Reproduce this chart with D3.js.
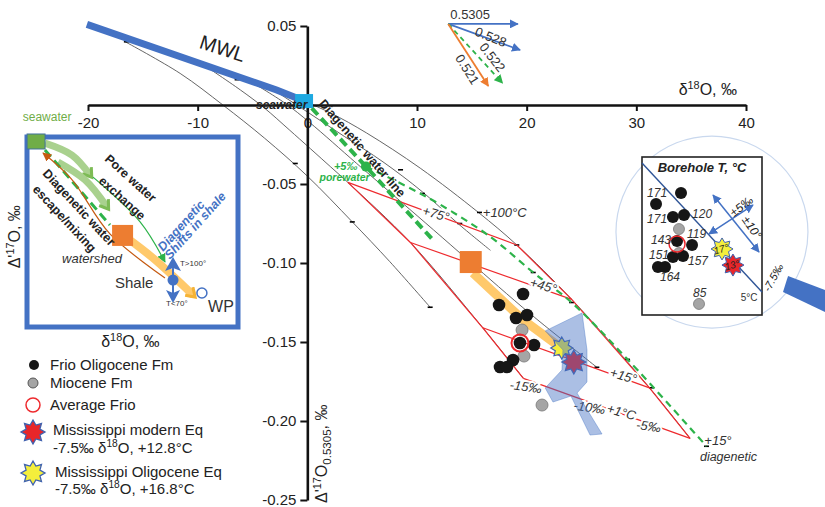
<!DOCTYPE html>
<html>
<head>
<meta charset="utf-8">
<script src="https://cdn.jsdelivr.net/npm/d3@7"></script>
<style>
  body { margin: 0; background: #fff; }
  svg { font-family: Arial, "Liberation Sans", sans-serif; }
</style>
</head>
<body>
<svg id="chart" width="825" height="507"></svg>
<script>
// ---- axes
const xTicks = [-20, -10, 0, 10, 20, 30, 40];
const yTicks = [0.05, -0.05, -0.10, -0.15, -0.20, -0.25];

// ---- meteoric water line and seawater (d18O, D'17O)
const mwlLine = [[-20.1, 0.051], [-2.8, 0.0095], [-0.8, 0.004]];
const seawaterPt = [-0.3, 0.0025];

// ---- thin equilibrium curves
const curveA = [[-16.6, 0.040], [-11.6, 0.020], [-7.7, 0], [-3.9, -0.021], [0, -0.045], [4.1, -0.074], [7.5, -0.099], [11.2, -0.128]];
const curveB = [[-9.8, 0.027], [-6.1, 0.0095], [-3.9, -0.002], [-1.6, -0.016], [2.1, -0.039], [3.7, -0.049], [9.4, -0.087], [16.0, -0.141], [19.7, -0.173]];
const curveC = [[-5.2, 0.015], [-2.0, 0.001], [0.2, -0.011], [4.5, -0.037], [8.5, -0.061], [11.5, -0.079], [14.8, -0.099], [20.3, -0.132], [26.4, -0.166]];
const curveD = [[-3.4, 0.011], [0, -0.0044], [3.4, -0.020], [6.9, -0.036], [10.5, -0.055], [13.9, -0.076], [16.7, -0.092]];
const curveE = [[-2.0, 0.0076], [2.1, -0.005], [5.4, -0.0177], [10.3, -0.040], [15.6, -0.068], [19.1, -0.0886], [24.1, -0.123], [31.2, -0.179], [34.9, -0.211]];
const curveTicks = [[-16.5, 0.040], [-6.4, 0.016], [-4.6, 0.014], [-1.1, -0.037], [4.1, -0.074], [11.2, -0.128],
  [8.5, -0.041], [10.5, -0.056], [13.9, -0.075], [15.7, -0.068], [19.1, -0.0886], [20.6, -0.106],
  [24.1, -0.125], [26.4, -0.166], [29.2, -0.161], [31.4, -0.179], [36.4, -0.216]];

// ---- red grid: water d18O columns and isotherm rows
const minus15Line = [[3.7, -0.049], [9.4, -0.087], [16.0, -0.141], [19.7, -0.173]];
const minus5Line = [[19.1, -0.0886], [24.1, -0.123], [31.2, -0.179], [34.9, -0.211]];
const isoLabels = ['+75°', '+45°', '+15°', '+1°C'];
const isoLabelPts = [[11.7, -0.0696], [21.5, -0.115], [28.8, -0.172], [28.6, -0.195]];
const waterLabels = ['-15‰', '-10‰', '-5‰'];
const waterLabelPts = [[19.9, -0.179], [25.7, -0.192], [31.1, -0.204]];

// ---- diagenetic water lines
const diagThick = [[0.4, -0.002], [5.35, -0.039], [11.4, -0.085]];
const diagThin = [[5.35, -0.039], [8.9, -0.051], [12.1, -0.063], [16.7, -0.0835], [20.6, -0.106], [24.1, -0.125], [29.2, -0.161], [36.4, -0.216]];
const porewaterPt = [5.35, -0.039];

// ---- samples
const orangeSq = [14.9, -0.0994];
const shaleBand = [[15.1, -0.1063], [19.67, -0.136], [22.8, -0.152]];
const frioBlack = [[19.67, -0.1196], [17.48, -0.1266], [19.03, -0.1348], [20.03, -0.1329], [19.39, -0.1506],
  [20.67, -0.1519], [18.76, -0.1614], [17.57, -0.1658], [18.21, -0.1658]];
const mioceneGray = [[19.58, -0.1424], [19.76, -0.1589], [21.40, -0.1899]];
const avgFrio = [19.39, -0.1506];
const starOligocene = [23.2, -0.1538];
const starModern = [24.3, -0.1627];
const bluePoly = [[21.69, -0.143], [25.05, -0.1316], [25.5, -0.155], [25.5, -0.1753], [24.59, -0.1823], [26.87, -0.2082],
  [25.78, -0.2089], [24.04, -0.1842], [22.4, -0.188], [21.69, -0.1791], [23.22, -0.1677], [23.31, -0.155]];

// ---- slope arrows (top)
const slopeOrigin = [12.85, 0.0513];
const slopeNames = ['0.5305', '0.528', '0.522', '0.521'];
const slopeEnds = [[19.2, 0.0513], [19.4, 0.0348], [17.8, 0.0139], [16.5, 0.0120]];
const slopeLabelPts = [[14.85, 0.0565], [16.7, 0.0424], [16.8, 0.0297], [14.5, 0.0222]];
const slopeLabelRot = [0, 22, 52, 58];

// ---- left schematic inset (0-100 units)
const inSeawater = [4.3, 2.1];
const inPore1 = [[8.5, 3.2], [21.3, 9.5], [29.9, 20]];
const inPore2 = [[14.7, 13.2], [27.5, 22.6], [37.9, 36.8]];
const inDashed = [[8.5, 6.8], [39.3, 46.3]];
const inGreenThin = [[31.3, 21.1], [53.6, 44.7], [65.4, 65.8]];
const inBrown = [[65.4, 74.2], [39.3, 51], [21, 22], [7.6, 8.4]];
const inOrange = [45.3, 51.8];
const inBand = [[45.5, 51.6], [59.7, 63.7], [78.7, 83.2]];
const inShale = [69.2, 75.3];
const inWP = [82.9, 82.1];

// ---- right borehole inset (0-100 units)
const bhBlack = [[32.5, 22.8], [11.7, 29.7], [25.8, 38], [35, 36.7], [29.2, 53.2], [41.7, 55.7], [25.8, 63.3],
  [34.2, 62.7], [13.3, 69.6], [19.2, 69.6]];
const bhGray = [[30.8, 45.6], [30.8, 60.8], [47.5, 93]];
const bhAvg = [29.2, 55.1];
const bhTemps = ['171', '171', '120', '119', '143', '151', '157', '164', '85'];
const bhTempPts = [[4.2, 25.3], [4.2, 41.8], [41.7, 38.6], [37.5, 51.3], [7.5, 55.1], [5.8, 64.6], [38.3, 68.4], [15, 78.5], [42.5, 88.6]];
const bhLine = [[0, 3.8], [100, 85.4]];
const bhArrow1 = [[59.2, 24.1], [97.5, 60.1]];
const bhArrow2 = [[92.5, 30.4], [55.8, 48.7]];
const bhStar17 = [66.7, 58.2];
const bhStar13 = [75.8, 68.4];
const bhCircle = [58.3, 47.5];
const bhWedge = [[121.7, 75.3], [152.5, 84.2], [152.5, 98.1], [117.5, 85.4]];

// ---- legend
const legendNames = ['Frio Oligocene Fm', 'Miocene Fm', 'Average Frio'];

const BLUE = '#4472C4', GREEN = '#2DB34A', ORANGE = '#ED7D31', RED = '#EE2A2E';

const svg = d3.select('#chart');
const x = d3.scaleLinear().domain([-20, 40]).range([88, 746]);
const y = d3.scaleLinear().domain([0.05, -0.25]).range([26, 500]);
const line = d3.line().x(d => x(d[0])).y(d => y(d[1]));
const smooth = d3.line().x(d => x(d[0])).y(d => y(d[1])).curve(d3.curveCatmullRom.alpha(0.5));

// markers
const defs = svg.append('defs');
function marker(id, color, kind) {
  const m = defs.append('marker').attr('id', id).attr('viewBox', '0 0 10 10')
    .attr('refX', kind === 'chev' ? 5 : 9).attr('refY', 5)
    .attr('markerUnits', 'userSpaceOnUse')
    .attr('markerWidth', kind === 'chev' ? 14 : 9).attr('markerHeight', kind === 'chev' ? 14 : 9)
    .attr('orient', 'auto-start-reverse');
  if (kind === 'chev') {
    m.append('path').attr('d', 'M1,1 L7,5 L1,9').attr('fill', 'none').attr('stroke', color).attr('stroke-width', 2.2);
  } else {
    m.append('path').attr('d', 'M0,0 L10,5 L0,10 z').attr('fill', color);
  }
}
marker('aBlue', BLUE); marker('aGreen', GREEN); marker('aOrange', ORANGE); marker('aBrown', '#C55A11');
marker('cGreen', '#7DBB55', 'chev'); marker('cOrange', '#F5B335', 'chev');

function addText(g, px, py, str, o = {}) {
  const t = g.append('text').attr('x', px).attr('y', py)
    .attr('font-size', o.size || 13).attr('fill', o.fill || '#222');
  if (str !== null) t.text(str);
  if (o.anchor) t.attr('text-anchor', o.anchor);
  if (o.weight) t.attr('font-weight', o.weight);
  if (o.italic) t.attr('font-style', 'italic');
  if (o.rotate) t.attr('transform', `rotate(${o.rotate},${px},${py})`);
  if (o.halo) t.attr('stroke', '#fff').attr('stroke-width', 4).attr('paint-order', 'stroke');
  return t;
}
function deltaTspans(t, pre, sup, post) {
  t.append('tspan').text(pre);
  t.append('tspan').attr('font-size', '68%').attr('dy', -6).text(sup);
  t.append('tspan').attr('dy', 6).text(post);
}
function starPath(cx, cy, R, r, n) {
  const pts = d3.range(n * 2).map(i => {
    const a = Math.PI * i / n - Math.PI / 2;
    const rr = i % 2 ? r : R;
    return [cx + rr * Math.cos(a), cy + rr * Math.sin(a)];
  });
  return 'M' + pts.join('L') + 'Z';
}

// ---- borehole circle backdrop
const rX = d3.scaleLinear().domain([0, 100]).range([642, 762]);
const rY = d3.scaleLinear().domain([0, 100]).range([157, 315]);
svg.append('circle').attr('cx', rX(bhCircle[0])).attr('cy', rY(bhCircle[1])).attr('r', 96)
  .attr('fill', 'none').attr('stroke', '#C9D8EE').attr('stroke-width', 1.2);
svg.append('path').attr('d', d3.line().x(d => rX(d[0])).y(d => rY(d[1]))(bhWedge) + 'Z').attr('fill', BLUE);

// ---- thin curves
const plot = svg.append('g');
[curveA, curveB, curveC, curveD, curveE].forEach(c => {
  plot.append('path').attr('d', smooth(c)).attr('fill', 'none').attr('stroke', '#555').attr('stroke-width', 0.9);
});
plot.selectAll('.ctick').data(curveTicks).join('line')
  .attr('x1', d => x(d[0]) - 2.5).attr('x2', d => x(d[0]) + 2.5)
  .attr('y1', d => y(d[1])).attr('y2', d => y(d[1]))
  .attr('stroke', '#000').attr('stroke-width', 1.6);

// ---- red grid
const red = svg.append('g').attr('fill', 'none').attr('stroke', RED).attr('stroke-width', 1.2);
red.append('path').attr('d', line(minus15Line));
red.append('path').attr('d', line(minus5Line));
minus15Line.forEach((p, i) => red.append('path').attr('d', line([p, minus5Line[i]])));

// ---- diagenetic water lines
svg.append('path').attr('d', line(diagThick)).attr('fill', 'none').attr('stroke', GREEN)
  .attr('stroke-width', 4).attr('stroke-dasharray', '9,5');
svg.append('path').attr('d', smooth(diagThin)).attr('fill', 'none').attr('stroke', GREEN)
  .attr('stroke-width', 2.2).attr('stroke-dasharray', '7,5');
svg.append('circle').attr('cx', x(porewaterPt[0])).attr('cy', y(porewaterPt[1])).attr('r', 5).attr('fill', GREEN);

// ---- axes
const xAxis = svg.append('g').attr('transform', `translate(0,${y(0)})`)
  .call(d3.axisBottom(x).tickValues(xTicks).tickSize(6).tickSizeOuter(0).tickPadding(6).tickFormat(d => String(d)));
const yAxis = svg.append('g').attr('transform', `translate(${x(0)},0)`)
  .call(d3.axisLeft(y).tickValues(yTicks).tickSize(7).tickSizeOuter(0).tickPadding(4).tickFormat(d => d.toFixed(2)));
[xAxis, yAxis].forEach(a => {
  a.select('.domain').attr('stroke', '#111').attr('stroke-width', 2.6);
  a.selectAll('.tick line').attr('stroke', '#111').attr('stroke-width', 2);
  a.selectAll('.tick text').attr('font-size', 15).attr('fill', '#222').attr('font-family', 'Arial, "Liberation Sans", sans-serif');
});

const xt = addText(svg, x(40) - 9, y(0) - 10, null, { size: 16, anchor: 'end' });
deltaTspans(xt, 'δ', '18', 'O, ‰');
const yt = svg.append('text').attr('transform', `translate(${x(0) + 20},${y(-0.25) + 3}) rotate(-90)`)
  .attr('font-size', 16).attr('fill', '#222');
yt.append('tspan').text("Δ'");
yt.append('tspan').attr('font-size', '68%').attr('dy', -6).text('17');
yt.append('tspan').attr('dy', 6).text('O');
yt.append('tspan').attr('font-size', '72%').attr('dy', 4).text('0.5305');
yt.append('tspan').attr('dy', -4).text(', ‰');

// ---- MWL and seawater
svg.append('path').attr('d', line(mwlLine)).attr('fill', 'none').attr('stroke', BLUE).attr('stroke-width', 7);
svg.append('rect').attr('x', x(seawaterPt[0]) - 9).attr('y', y(seawaterPt[1]) - 7).attr('width', 18).attr('height', 14)
  .attr('fill', '#1EA9E1');
addText(svg, x(-7.77), y(0.0348), 'MWL', { size: 20, anchor: 'middle', rotate: 18, fill: '#222' })
  .attr('dominant-baseline', 'middle');
addText(svg, x(0), y(-0.0025), 'seawater', { size: 12, weight: 'bold', italic: true, anchor: 'end', fill: '#222' });
addText(svg, x(1.0), y(0.0006), 'Diagenetic water line', { size: 12.5, weight: 'bold', rotate: 49, fill: '#222' });
addText(svg, x(3.5), y(-0.0411), '+5‰', { size: 11, weight: 'bold', italic: true, anchor: 'middle', fill: GREEN });
addText(svg, x(3.4), y(-0.0481), 'porewater', { size: 10.5, weight: 'bold', italic: true, anchor: 'middle', fill: GREEN });

// ---- grid labels
isoLabels.forEach((s, i) => addText(svg, x(isoLabelPts[i][0]), y(isoLabelPts[i][1]), s,
  { size: 13, italic: true, anchor: 'middle', rotate: 16, fill: '#333', halo: true }).attr('dominant-baseline', 'middle'));
waterLabels.forEach((s, i) => addText(svg, x(waterLabelPts[i][0]), y(waterLabelPts[i][1]), s,
  { size: 13, italic: true, anchor: 'middle', rotate: 8, fill: '#333', halo: true }).attr('dominant-baseline', 'middle'));
addText(svg, x(16.0), y(-0.0709), '+100°C', { size: 13, italic: true, fill: '#333' });
addText(svg, x(36.2), y(-0.2152), '+15°', { size: 13, italic: true, fill: '#333' });
addText(svg, x(35.8), y(-0.2253), 'diagenetic', { size: 12.5, italic: true, fill: '#333' });

// ---- samples
svg.append('path').attr('d', line(shaleBand)).attr('fill', 'none').attr('stroke', '#FFC96B').attr('stroke-width', 9);
svg.append('rect').attr('x', x(orangeSq[0]) - 11).attr('y', y(orangeSq[1]) - 11).attr('width', 22).attr('height', 22)
  .attr('fill', ORANGE);
svg.selectAll('.gray').data(mioceneGray).join('circle').attr('cx', d => x(d[0])).attr('cy', d => y(d[1]))
  .attr('r', 6).attr('fill', '#A5A5A5').attr('stroke', '#777').attr('stroke-width', 0.8);
svg.selectAll('.black').data(frioBlack).join('circle').attr('cx', d => x(d[0])).attr('cy', d => y(d[1]))
  .attr('r', 6.3).attr('fill', '#161616');
svg.append('circle').attr('cx', x(avgFrio[0])).attr('cy', y(avgFrio[1])).attr('r', 8.5)
  .attr('fill', 'none').attr('stroke', RED).attr('stroke-width', 2);
svg.append('path').attr('d', starPath(x(starOligocene[0]), y(starOligocene[1]), 11, 7, 8))
  .attr('fill', '#F4EE3C').attr('stroke', '#3F62B0').attr('stroke-width', 1.2);
svg.append('path').attr('d', starPath(x(starModern[0]), y(starModern[1]), 12, 7.5, 8))
  .attr('fill', '#E8262A').attr('stroke', '#3F62B0').attr('stroke-width', 1.2);
svg.append('path').attr('d', line(bluePoly) + 'Z').attr('fill', BLUE).attr('fill-opacity', 0.45)
  .attr('stroke', BLUE).attr('stroke-opacity', 0.5).attr('stroke-width', 0.8);

// ---- slope arrows
const slopeColors = [BLUE, BLUE, GREEN, ORANGE];
const slopeMarkers = ['aBlue', 'aBlue', 'aGreen', 'aOrange'];
slopeEnds.forEach((e, i) => {
  svg.append('path').attr('d', line([slopeOrigin, e])).attr('stroke', slopeColors[i]).attr('stroke-width', 1.8)
    .attr('stroke-dasharray', i === 2 ? '5,4' : null).attr('marker-end', `url(#${slopeMarkers[i]})`);
  addText(svg, x(slopeLabelPts[i][0]), y(slopeLabelPts[i][1]), slopeNames[i],
    { size: 13, anchor: 'middle', rotate: slopeLabelRot[i], fill: '#333' }).attr('dominant-baseline', 'middle');
});

// ---- left schematic inset
const ix = d3.scaleLinear().domain([0, 100]).range([27, 238]);
const iy = d3.scaleLinear().domain([0, 100]).range([137, 327]);
const iline = d3.line().x(d => ix(d[0])).y(d => iy(d[1])).curve(d3.curveCatmullRom.alpha(0.5));
const inset = svg.append('g');
inset.append('rect').attr('x', ix(0)).attr('y', iy(0)).attr('width', ix(100) - ix(0)).attr('height', iy(100) - iy(0))
  .attr('fill', '#fff').attr('stroke', BLUE).attr('stroke-width', 5);
[inPore1, inPore2].forEach(p => inset.append('path').attr('d', iline(p)).attr('fill', 'none')
  .attr('stroke', '#A9D18E').attr('stroke-width', 7).attr('marker-end', 'url(#cGreen)'));
inset.append('path').attr('d', iline(inDashed)).attr('fill', 'none').attr('stroke', GREEN)
  .attr('stroke-width', 3).attr('stroke-dasharray', '9,5');
inset.append('path').attr('d', iline(inGreenThin)).attr('fill', 'none').attr('stroke', GREEN)
  .attr('stroke-width', 1.2).attr('marker-end', 'url(#aGreen)');
inset.append('path').attr('d', iline(inBand)).attr('fill', 'none').attr('stroke', '#FFC96B')
  .attr('stroke-width', 8).attr('marker-end', 'url(#cOrange)');
inset.append('path').attr('d', iline(inBrown)).attr('fill', 'none').attr('stroke', '#C55A11')
  .attr('stroke-width', 1.2).attr('marker-end', 'url(#aBrown)');
inset.append('rect').attr('x', ix(inSeawater[0]) - 9).attr('y', iy(inSeawater[1]) - 7).attr('width', 18).attr('height', 15)
  .attr('fill', '#70AD47').attr('stroke', '#41719C').attr('stroke-width', 1);
inset.append('rect').attr('x', ix(inOrange[0]) - 10.5).attr('y', iy(inOrange[1]) - 10.5).attr('width', 21).attr('height', 21)
  .attr('fill', ORANGE);
const sx = ix(inShale[0]), sy = iy(inShale[1]);
inset.append('path').attr('d', `M${sx},${sy - 23}L${sx + 8},${sy - 9}L${sx},${sy - 12}L${sx - 8},${sy - 9}Z`).attr('fill', BLUE);
inset.append('path').attr('d', `M${sx},${sy + 23}L${sx + 7},${sy + 10}L${sx},${sy + 13}L${sx - 7},${sy + 10}Z`).attr('fill', BLUE);
inset.append('line').attr('x1', sx).attr('x2', sx).attr('y1', sy - 12).attr('y2', sy + 13).attr('stroke', BLUE).attr('stroke-width', 2);
inset.append('circle').attr('cx', sx).attr('cy', sy).attr('r', 5.5).attr('fill', BLUE);
inset.append('circle').attr('cx', ix(inWP[0])).attr('cy', iy(inWP[1])).attr('r', 5).attr('fill', '#fff')
  .attr('stroke', BLUE).attr('stroke-width', 1.5);
addText(inset, ix(36.5), iy(12.1), 'Pore water', { size: 12.5, weight: 'bold', rotate: 42 });
addText(inset, ix(33.6), iy(23.7), 'exchange', { size: 12.5, weight: 'bold', rotate: 42 });
addText(inset, ix(7.1), iy(19.5), 'Diagenetic water', { size: 12.5, weight: 'bold', rotate: 47 });
addText(inset, ix(2.4), iy(27.9), 'escape/mixing', { size: 12.5, weight: 'bold', rotate: 47 });
addText(inset, ix(16.6), iy(66.3), 'watershed', { size: 13, italic: true, fill: '#333' });
addText(inset, ix(41.7), iy(79.5), 'Shale', { size: 15, fill: '#333' });
addText(inset, ix(85.8), iy(92.1), 'WP', { size: 16, fill: '#333' });
addText(inset, ix(72.5), iy(67.9), 'T>100°', { size: 8, fill: '#333' });
addText(inset, ix(65.9), iy(88.9), 'T<70°', { size: 8, fill: '#333' });
addText(inset, ix(64.5), iy(60.5), 'Diagenetic', { size: 12.5, weight: 'bold', italic: true, rotate: -48, fill: BLUE });
addText(inset, ix(67.8), iy(64.7), 'Shifts in shale', { size: 12.5, weight: 'bold', italic: true, rotate: -48, fill: BLUE });
addText(svg, ix(-2), iy(-8.5), 'seawater', { size: 12, fill: '#70AD47' });
const iyl = svg.append('text').attr('transform', `translate(${ix(-3.3)},${iy(52.5)}) rotate(-90)`)
  .attr('font-size', 16).attr('fill', '#222').attr('text-anchor', 'middle');
deltaTspans(iyl, "Δ'", '17', 'O, ‰');
const ixl = addText(svg, ix(49), iy(110.5), null, { size: 16, anchor: 'middle' });
deltaTspans(ixl, 'δ', '18', 'O, ‰');

// ---- right borehole inset
const rline = d3.line().x(d => rX(d[0])).y(d => rY(d[1]));
const bh = svg.append('g');
bh.append('rect').attr('x', rX(0)).attr('y', rY(0)).attr('width', rX(100) - rX(0)).attr('height', rY(100) - rY(0))
  .attr('fill', '#fff').attr('stroke', '#222').attr('stroke-width', 1.6);
bh.append('path').attr('d', rline(bhLine)).attr('stroke', '#2F5597').attr('stroke-width', 1.4);
[bhArrow1, bhArrow2].forEach(a => bh.append('path').attr('d', rline(a)).attr('stroke', BLUE).attr('stroke-width', 1.5)
  .attr('marker-end', 'url(#aBlue)').attr('marker-start', 'url(#aBlue)'));
bh.selectAll('.g').data(bhGray).join('circle').attr('cx', d => rX(d[0])).attr('cy', d => rY(d[1]))
  .attr('r', 5.5).attr('fill', '#A5A5A5').attr('stroke', '#777').attr('stroke-width', 0.8);
bh.selectAll('.b').data(bhBlack).join('circle').attr('cx', d => rX(d[0])).attr('cy', d => rY(d[1]))
  .attr('r', 6).attr('fill', '#161616');
bh.append('circle').attr('cx', rX(bhAvg[0])).attr('cy', rY(bhAvg[1])).attr('r', 8)
  .attr('fill', 'none').attr('stroke', RED).attr('stroke-width', 1.5);
bhTemps.forEach((s, i) => addText(bh, rX(bhTempPts[i][0]), rY(bhTempPts[i][1]), s, { size: 12, italic: true, fill: '#333' }));
bh.append('path').attr('d', starPath(rX(bhStar17[0]), rY(bhStar17[1]), 11, 7, 8))
  .attr('fill', '#F4EE3C').attr('stroke', '#3F62B0').attr('stroke-width', 1);
bh.append('path').attr('d', starPath(rX(bhStar13[0]), rY(bhStar13[1]), 11, 7, 8))
  .attr('fill', '#E8262A').attr('stroke', '#3F62B0').attr('stroke-width', 1);
addText(bh, rX(bhStar17[0]), rY(bhStar17[1]) + 3.5, '17°', { size: 10, italic: true, anchor: 'middle', rotate: -15 });
addText(bh, rX(bhStar13[0]), rY(bhStar13[1]) + 3.5, '13°', { size: 10, italic: true, anchor: 'middle', rotate: -15 });
addText(bh, rX(50), rY(9.5), 'Borehole T, °C', { size: 13, weight: 'bold', italic: true, anchor: 'middle' });
addText(bh, rX(83.3), rY(31.6), '±5‰', { size: 12, italic: true, anchor: 'middle', rotate: -38 }).attr('dominant-baseline', 'middle');
addText(bh, rX(91), rY(45), '±10°', { size: 12, italic: true, anchor: 'middle', rotate: 55 }).attr('dominant-baseline', 'middle');
addText(bh, rX(89.2), rY(89.2), '5°C', { size: 10, anchor: 'middle', fill: '#333' }).attr('dominant-baseline', 'middle');
addText(bh, rX(110), rY(76.6), '-7.5‰', { size: 11, italic: true, anchor: 'middle', rotate: -62 }).attr('dominant-baseline', 'middle');

// ---- legend
const lg = svg.append('g');
const lgY = [370, 388, 410];
lg.append('circle').attr('cx', 34).attr('cy', lgY[0] - 5).attr('r', 5).attr('fill', '#161616');
lg.append('circle').attr('cx', 33).attr('cy', lgY[1] - 5).attr('r', 5).attr('fill', '#A5A5A5').attr('stroke', '#555').attr('stroke-width', 1);
lg.append('circle').attr('cx', 33).attr('cy', lgY[2] - 5).attr('r', 7).attr('fill', 'none').attr('stroke', RED).attr('stroke-width', 1.5);
legendNames.forEach((s, i) => addText(lg, 50, lgY[i], s, { size: 15 }));
lg.append('path').attr('d', starPath(33, 432, 12, 7.5, 8)).attr('fill', '#E8262A').attr('stroke', '#3F62B0').attr('stroke-width', 1.3);
lg.append('path').attr('d', starPath(33, 473, 12, 7.5, 8)).attr('fill', '#F4EE3C').attr('stroke', '#3F62B0').attr('stroke-width', 1.3);
addText(lg, 53, 435, 'Mississippi modern Eq', { size: 15 });
deltaTspans(addText(lg, 53, 453, null, { size: 15 }), '-7.5‰ δ', '18', 'O, +12.8°C');
addText(lg, 55, 477, 'Mississippi Oligocene Eq', { size: 15 });
deltaTspans(addText(lg, 55, 494, null, { size: 15 }), '-7.5‰ δ', '18', 'O, +16.8°C');
</script>
</body>
</html>
